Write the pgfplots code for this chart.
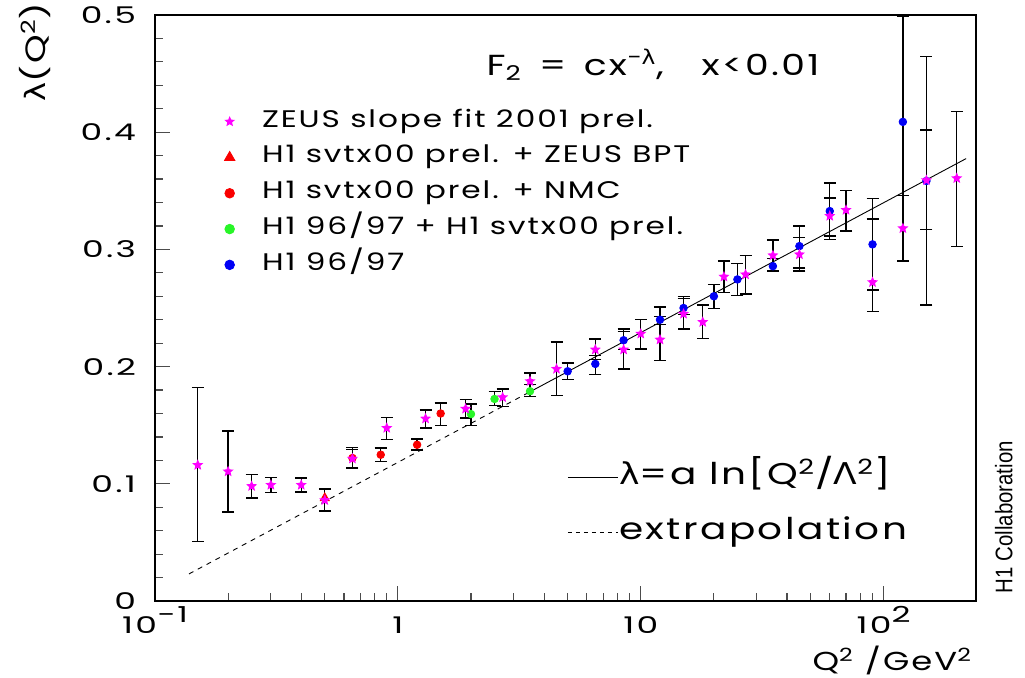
\documentclass[border=0pt]{standalone}
\usepackage{pgfplots}
\pgfplotsset{compat=1.18}
\usepackage{graphicx}
\usepackage{fontspec}
\setmainfont{Poppins}[FakeStretch=1.3, LetterSpace=8]
\newfontfamily\widef{Poppins}[FakeStretch=1.5, LetterSpace=10]
\newfontfamily\djv{DejaVu Sans}[FakeStretch=1.15]
\newfontfamily\arialf{Liberation Sans}
\definecolor{zmag}{RGB}{255,0,255}
\definecolor{hgreen}{RGB}{40,245,40}
\definecolor{hblue}{RGB}{0,0,245}
\definecolor{hred}{RGB}{250,0,0}

\pgfdeclareplotmark{fstar}{%
  \pgfpathmoveto{\pgfpointpolar{90}{\pgfplotmarksize}}%
  \pgfpathlineto{\pgfpointpolar{126}{0.45\pgfplotmarksize}}%
  \pgfpathlineto{\pgfpointpolar{162}{\pgfplotmarksize}}%
  \pgfpathlineto{\pgfpointpolar{198}{0.45\pgfplotmarksize}}%
  \pgfpathlineto{\pgfpointpolar{234}{\pgfplotmarksize}}%
  \pgfpathlineto{\pgfpointpolar{270}{0.45\pgfplotmarksize}}%
  \pgfpathlineto{\pgfpointpolar{306}{\pgfplotmarksize}}%
  \pgfpathlineto{\pgfpointpolar{342}{0.45\pgfplotmarksize}}%
  \pgfpathlineto{\pgfpointpolar{18}{\pgfplotmarksize}}%
  \pgfpathlineto{\pgfpointpolar{54}{0.45\pgfplotmarksize}}%
  \pgfpathclose
  \pgfusepathqfill
}

\pgfplotstableread{
x y ep em
0.15 0.116 0.066 0.065
0.20 0.1105 0.0345 0.0345
0.25 0.098 0.010 0.010
0.30 0.099 0.0064 0.0064
0.40 0.099 0.006 0.006
0.50 0.086 0.009 0.0095
0.65 0.1214 0.008 0.008
0.90 0.1476 0.009 0.0096
1.30 0.1556 0.0074 0.008
1.90 0.164 0.008 0.008
2.70 0.1738 0.0072 0.0078
3.50 0.1875 0.007 0.003
4.50 0.198 0.023 0.0225
6.50 0.2145 0.009 0.0085
8.50 0.2145 0.0175 0.0165
10 0.228 0.012 0.013
12 0.223 0.020 0.018
15 0.245 0.013 0.013
18 0.238 0.0144 0.014
22 0.2767 0.0133 0.0137
27 0.2786 0.0164 0.0166
35 0.2949 0.013 0.013
45 0.2957 0.0143 0.0142
60 0.3285 0.0155 0.0171
70 0.3336 0.0168 0.0179
90 0.272 0.054 0.025
120 0.318 0.028 0.028
150 0.359 0.043 0.042
200 0.3607 0.057 0.058
}\zeus

\pgfplotstableread{
x y ep em
0.65 0.122 0.009 0.008
0.85 0.1248 0.0057 0.006
1.2 0.1333 0.005 0.0043
1.5 0.160 0.009 0.010
}\nmc

\pgfplotstableread{
x y ep em
0.5 0.0878 0.008 0.011
}\bpt

\pgfplotstableread{
x y ep em
2.0 0.1595 0.0085 0.0095
2.5 0.1724 0.0066 0.0057
3.5 0.179 0.0056 0.0044
}\grn

\pgfplotstableread{
x y ep em
5.0 0.196 0.007 0.007
6.5 0.2023 0.007 0.009
8.5 0.2225 0.0075 0.008
12 0.240 0.011 0.004
15 0.250 0.010 0.0055
20 0.260 0.010 0.0104
25 0.2744 0.0136 0.0137
35 0.2857 0.0063 0.0047
45 0.3028 0.017 0.0185
60 0.3327 0.024 0.024
90 0.3043 0.039 0.039
120 0.4088 0.09 0.063
150 0.3584 0.106 0.106
}\blu

\begin{document}
\begin{tikzpicture}
\useasboundingbox (-77.5pt,-38pt) rectangle (435pt,300.5pt);
\begin{axis}[
  at={(0,0)}, anchor=south west,
  scale only axis, width=410.5pt, height=293pt,
  xmode=log, xmin=0.1, xmax=240, ymin=0, ymax=0.5,
  axis line style={line width=0.8pt},
  xtick={0.1,1,10,100},
  xticklabels={10\raisebox{0.85ex}{\fontsize{11}{11}\selectfont −1}, 1, 10, 10\raisebox{0.85ex}{\fontsize{11}{11}\selectfont 2}},
  ytick={0,0.1,0.2,0.3,0.4,0.5},
  yticklabels={0,0.1,0.2,0.3,0.4,0.5},
  minor y tick num=4,
  xtick pos=bottom, ytick pos=left,
  tick align=inside,
  major tick length=7.5pt, minor tick length=3.8pt,
  tick style={line width=0.6pt, black!70},
  ticklabel style={font=\widef\fontsize{11.5}{11.5}\selectfont},
  xticklabel style={anchor=base, yshift=-16pt},
  yticklabel style={anchor=east, xshift=-6pt},
  error bars/error bar style={black, line width=0.7pt},
  error bars/error mark options={rotate=90, mark size=3pt, black, line width=0.7pt},
  legend style={at={(0.084,0.84)}, anchor=north west, draw=none, fill=none,
    font=\fontsize{12}{13}\selectfont, row sep=5.4pt, inner sep=0pt,
    nodes={inner sep=1pt, text height=8pt, text depth=2.5pt},
    /tikz/every odd column/.style={column sep=12.5pt}},
  legend cell align=left,
]
% fit line
\addplot[black, line width=0.45pt, dash pattern=on 2.5pt off 2.5pt, forget plot] coordinates {(0.138,0.0231) (3.5,0.1785)};
\addplot[black, line width=0.45pt, forget plot] coordinates {(3.5,0.1785) (218.6,0.3775)};

\addplot[only marks, mark=*, mark size=1.9pt, hblue, forget plot,
  error bars/.cd, y dir=both, y explicit]
  table[x=x,y=y,y error plus=ep,y error minus=em]{\blu};
\addplot[only marks, mark=*, mark size=1.9pt, hgreen, forget plot,
  error bars/.cd, y dir=both, y explicit]
  table[x=x,y=y,y error plus=ep,y error minus=em]{\grn};
\addplot[only marks, mark=*, mark size=1.9pt, hred, forget plot,
  error bars/.cd, y dir=both, y explicit]
  table[x=x,y=y,y error plus=ep,y error minus=em]{\nmc};
\addplot[only marks, mark=triangle*, mark size=2.6pt, hred, forget plot,
  error bars/.cd, y dir=both, y explicit]
  table[x=x,y=y,y error plus=ep,y error minus=em]{\bpt};
\addplot[only marks, mark=fstar, mark size=2.9pt, zmag, forget plot,
  error bars/.cd, y dir=both, y explicit]
  table[x=x,y=y,y error plus=ep,y error minus=em]{\zeus};

\addlegendimage{only marks, mark=fstar, mark size=2.8pt, zmag}
\addlegendentry{ZEUS slope fit 2001 prel.}
\addlegendimage{only marks, mark=triangle*, mark size=3pt, hred}
\addlegendentry{H1 svtx00 prel. + ZEUS BPT}
\addlegendimage{only marks, mark=*, mark size=2.4pt, hred}
\addlegendentry{H1 svtx00 prel. + NMC}
\addlegendimage{only marks, mark=*, mark size=2.4pt, hgreen}
\addlegendentry{H1 96/97 + H1 svtx00 prel.}
\addlegendimage{only marks, mark=*, mark size=2.4pt, hblue}
\addlegendentry{H1 96/97}
\end{axis}
\begin{axis}[
  at={(0,0)}, anchor=south west,
  scale only axis, width=410.5pt, height=293pt,
  xmin=0, xmax=1, ymin=0, ymax=1, hide axis, clip=false,
  legend style={at={(0.5018,0.24)}, anchor=north west, draw=none, fill=none,
    font=\fontsize{15}{17}\selectfont, row sep=11pt, inner sep=0pt,
    nodes={inner xsep=0.5pt, inner ysep=1pt, text height=11pt, text depth=3.5pt}},
  legend cell align=left,
  legend image code/.code={\draw[#1] (0pt,0pt) -- (25pt,0pt);},
]
\addlegendimage{black, line width=0.45pt}
\addlegendentry{{\djv λ}=a ln[Q\textsuperscript{2}/{\djv Λ}\textsuperscript{2}]}
\addlegendimage{black, line width=0.45pt, dash pattern=on 2pt off 2pt}
\addlegendentry{extrapolation}

\node[font=\fontsize{14.5}{14.5}\selectfont] at (rel axis cs:0.6066,0.9147)
  {F\textsubscript{2}\hspace{0.6em}=\hspace{0.6em}cx\textsuperscript{−{\djv λ}},\hspace{1.3em}x<0.01};
\node[rotate=90, font=\fontsize{14}{14}\selectfont] at (rel axis cs:-0.146,0.937)
  {{\djv λ}(Q\textsuperscript{2})};
\node[font=\fontsize{13}{13}\selectfont] at (rel axis cs:0.898,-0.1007)
  {Q\textsuperscript{2} /GeV\textsuperscript{2}};
\node at (rel axis cs:1.034,0.143)
  {\rotatebox{90}{\scalebox{0.85}[1]{\arialf\fontsize{12}{12}\selectfont H1 Collaboration}}};
\end{axis}
\end{tikzpicture}
\end{document}
